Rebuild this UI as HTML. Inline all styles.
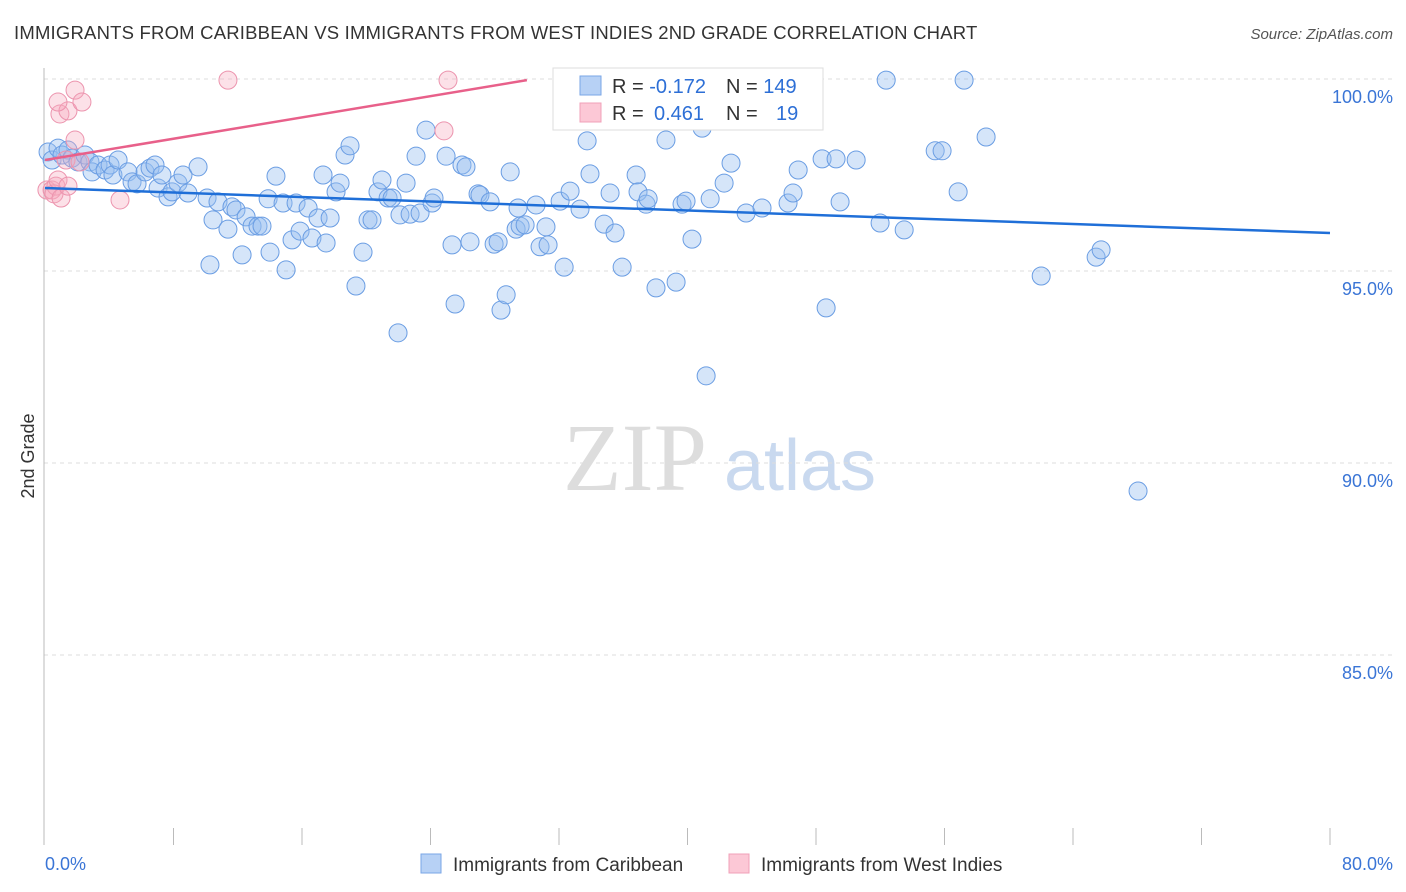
<!DOCTYPE html>
<html><head><meta charset="utf-8"><style>
body{margin:0;background:#fff;font-family:"Liberation Sans",sans-serif;}
#wrap{position:relative;width:1406px;height:892px;overflow:hidden;}
</style></head><body>
<div id="wrap">
<svg id="chart" width="1406" height="892">
<text x="14" y="39" font-size="18.5" letter-spacing="0.2" fill="#333">IMMIGRANTS FROM CARIBBEAN VS IMMIGRANTS FROM WEST INDIES 2ND GRADE CORRELATION CHART</text>
<text x="1393" y="39" font-size="15" fill="#555" font-style="italic" text-anchor="end">Source: ZipAtlas.com</text>
<text x="635" y="490" font-size="96" fill="#ddd" text-anchor="middle" font-family="Liberation Serif,serif">ZIP</text>
<text x="800" y="490" font-size="72" fill="#c9d9ef" text-anchor="middle">atlas</text>
<text transform="translate(34,456) rotate(-90)" font-size="18" fill="#333" text-anchor="middle">2nd Grade</text>
<g id="grid"></g><g id="axes"></g><g id="pts"></g><g id="lines"></g>
<g>
<rect x="553" y="68" width="270" height="62" fill="#fff" stroke="#ddd"/>
<rect x="580" y="76" width="21" height="19" fill="#b7d1f5" stroke="#7aa6e6"/>
<rect x="580" y="103" width="21" height="19" fill="#fcc8d6" stroke="#f0a0b8"/>
<text x="612" y="93" font-size="20" fill="#333">R = <tspan fill="#2d6fd6">-0.172</tspan><tspan x="726">N = </tspan><tspan fill="#2d6fd6">149</tspan></text>
<text x="612" y="120" font-size="20" fill="#333">R = <tspan x="654" fill="#2d6fd6">0.461</tspan><tspan x="726">N = </tspan><tspan x="776" fill="#2d6fd6">19</tspan></text>
</g>
<g>
<rect x="421" y="854" width="20" height="19" fill="#b7d1f5" stroke="#7aa6e6"/>
<text x="453" y="871" font-size="19" fill="#333">Immigrants from Caribbean</text>
<rect x="729" y="854" width="20" height="19" fill="#fcc8d6" stroke="#f0a0b8"/>
<text x="761" y="871" font-size="19" fill="#333">Immigrants from West Indies</text>
</g>
</svg>
</div>
<script>
const yTicks=[100,95,90,85];
const yTickLabels=["100.0%","95.0%","90.0%","85.0%"];
const xTickLabels=["0.0%","80.0%"];
const blueX=[0.19,0.44,0.81,1.06,1.43,1.68,2.05,2.49,2.80,2.93,3.30,3.74,4.05,4.23,4.55,5.17,5.42,5.73,6.23,6.54,6.85,7.04,7.28,7.66,7.91,8.28,8.59,8.90,9.53,10.09,10.27,10.46,10.77,11.39,11.64,11.89,12.27,12.52,12.89,13.26,13.51,13.89,14.01,14.38,14.82,15.01,15.38,15.63,15.88,16.38,16.62,17.00,17.31,17.50,17.75,18.12,18.37,18.68,18.99,19.36,19.80,20.11,20.36,20.73,20.98,21.36,21.61,21.98,22.10,22.48,22.73,23.10,23.35,23.72,24.10,24.22,24.97,25.34,25.53,25.96,26.21,26.46,26.96,27.08,27.71,27.96,28.21,28.39,28.71,28.96,29.45,29.33,29.58,29.89,30.57,30.82,31.19,31.32,32.07,32.32,32.69,33.31,33.75,33.93,34.81,35.18,35.49,35.93,36.80,36.92,37.42,37.55,38.04,38.66,39.29,39.66,39.91,40.28,40.91,41.16,41.41,42.28,42.71,43.65,44.64,45.02,46.26,46.57,46.89,48.38,48.63,49.25,49.50,50.50,51.99,52.37,53.49,55.42,55.85,56.85,57.22,58.59,62.02,65.44,65.75,68.05];
const blueY=[98.10,97.89,98.20,98.02,98.15,97.94,97.84,98.02,97.84,97.58,97.76,97.63,97.76,97.50,97.89,97.58,97.32,97.27,97.58,97.68,97.76,97.16,97.50,96.93,97.06,97.29,97.50,97.03,97.71,96.90,95.16,96.33,96.80,96.09,96.67,96.59,95.42,96.41,96.17,96.17,96.17,96.88,95.49,97.47,96.77,95.03,95.81,96.77,96.04,96.64,95.86,96.38,97.50,95.73,96.38,97.06,97.29,98.02,98.26,94.61,95.49,96.33,96.33,97.06,97.37,96.90,96.90,93.39,96.46,97.29,96.48,97.99,96.51,98.67,96.77,96.90,97.99,95.68,94.14,97.76,97.71,95.76,97.01,96.98,96.80,95.70,95.76,93.98,94.38,97.58,96.64,96.09,96.17,96.20,96.72,95.63,96.15,95.68,96.82,95.10,97.08,96.61,98.39,97.53,96.22,97.03,95.99,95.10,97.50,97.06,96.74,96.88,94.56,98.41,94.71,96.74,96.82,95.83,98.72,92.27,96.88,97.29,97.81,96.51,96.64,99.14,96.77,97.03,97.63,97.92,94.04,97.92,96.80,97.89,96.25,99.97,96.07,98.13,98.13,97.06,99.97,98.49,94.87,95.36,95.55,89.27];
const pinkX=[0.12,0.44,0.68,0.56,0.81,1.00,0.93,1.43,0.81,1.87,2.30,1.31,1.43,1.87,2.18,4.67,11.39,25.09,24.84];
const pinkY=[97.11,97.11,97.21,97.01,97.37,96.90,99.09,99.17,99.40,99.71,99.40,97.89,97.21,98.41,97.84,96.85,99.97,99.97,98.65];
const blueTrend=[97.16,95.99];
const pinkTrend=[97.89,99.97];
const pinkTrendEnd=30;

const NS="http://www.w3.org/2000/svg";
const X0=45,X1=1330,Y100=79,PXPP=38.4;
function sx(v){return X0+(X1-X0)*v/80;}
function sy(v){return Y100+(100-v)*PXPP;}
function mk(tag,attrs,parent){const e=document.createElementNS(NS,tag);for(const k in attrs)e.setAttribute(k,attrs[k]);parent.appendChild(e);return e;}
const grid=document.getElementById('grid'),axes=document.getElementById('axes'),pts=document.getElementById('pts'),lines=document.getElementById('lines');
yTicks.forEach((t,i)=>{
  const l=mk('line',{x1:44,x2:1394,y1:sy(t),y2:sy(t),stroke:'#ddd','stroke-dasharray':'4,4'},grid);
  
  
  const tx=mk('text',{x:1393,y:sy(t)+24,'font-size':18,fill:'#3a75d6','text-anchor':'end'},axes);
  tx.textContent=yTickLabels[i];
  
  
});
const ya=mk('line',{x1:44,x2:44,y1:68,y2:845,stroke:'#bbb'},axes);


for(let i=1;i<=10;i++){
  const t=mk('line',{x1:sx(i*8),x2:sx(i*8),y1:828,y2:845,stroke:'#bbb'},axes);
  
  
}
const xl0=mk('text',{x:45,y:870,'font-size':18,fill:'#3a75d6'},axes);xl0.textContent=xTickLabels[0];


const xl1=mk('text',{x:1393,y:870,'font-size':18,fill:'#3a75d6','text-anchor':'end'},axes);xl1.textContent=xTickLabels[1];


blueX.forEach((x,i)=>{
  const c=mk('circle',{cx:sx(x),cy:sy(blueY[i]),r:9,fill:'rgba(150,190,240,0.4)',stroke:'#6a9de3','stroke-width':1},pts);
  
  
});
pinkX.forEach((x,i)=>{
  const c=mk('circle',{cx:sx(x),cy:sy(pinkY[i]),r:9,fill:'rgba(245,170,190,0.35)',stroke:'#ec94ae','stroke-width':1},pts);
  
  
});
const bl=mk('line',{x1:sx(0),y1:sy(blueTrend[0]),x2:sx(80),y2:sy(blueTrend[1]),stroke:'#1f6fd8','stroke-width':2.5},lines);


const pl=mk('line',{x1:sx(0),y1:sy(pinkTrend[0]),x2:sx(pinkTrendEnd),y2:sy(pinkTrend[1]),stroke:'#e8608a','stroke-width':2.5},lines);


</script>
</body></html>
